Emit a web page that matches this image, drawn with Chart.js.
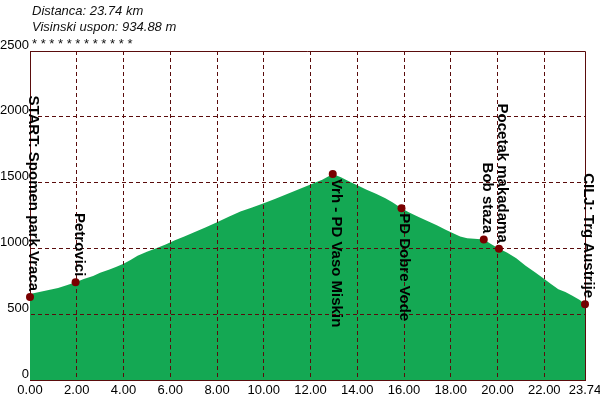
<!DOCTYPE html>
<html>
<head>
<meta charset="utf-8">
<script src="https://cdn.jsdelivr.net/npm/chart.js@4.4.1/dist/chart.umd.min.js"></script>
<style>
  html, body { margin: 0; padding: 0; background: #fff; }
  #wrap { width: 600px; height: 400px; position: relative; }
</style>
</head>
<body>
<div id="wrap"><canvas id="profil"></canvas></div>
<script>
// Podaci profila (km, m)
var distKm = [0, 0.1, 0.4, 0.8, 1.2, 1.6, 1.95, 2.3, 2.7, 3.0, 3.4, 3.7, 4.0, 4.3, 4.6, 5.0, 5.4, 5.8,
  6.2, 6.6, 7.0, 7.5, 8.0, 8.5, 9.0, 9.5, 10.0, 10.5, 11.0, 11.5, 12.0, 12.5, 12.95,
  13.3, 13.7, 14.0, 14.4, 14.8, 15.2, 15.5, 15.89, 16.2, 16.6, 17.0, 17.4, 17.8, 18.1, 18.4,
  18.7, 19.0, 19.41, 19.7, 20.06, 20.4, 20.8, 21.2, 21.6, 22.0, 22.3, 22.6, 22.9, 23.2, 23.5, 23.74];
var visina = [630, 658, 668, 684, 700, 722, 742, 768, 790, 815, 840, 860, 884, 912, 945, 975, 1002, 1030,
  1062, 1090, 1120, 1158, 1199, 1240, 1280, 1310, 1343, 1378, 1414, 1450, 1485, 1522, 1566,
  1540, 1505, 1480, 1445, 1415, 1382, 1350, 1306, 1275, 1240, 1208, 1176, 1140, 1115, 1090,
  1077, 1073, 1068, 1035, 997, 968, 925, 868, 818, 768, 728, 690, 668, 640, 610, 576];

// Kontrolne tacke
var tackeKm = [0, 1.95, 12.95, 15.89, 19.41, 20.06, 23.74];
var tackeVisina = [630, 742, 1566, 1306, 1068, 997, 576];
var tackeNazivi = ['START: Spomen park Vraca', 'Petrovici', 'Vrh - PD Vaso Miskin', 'PD Dobre Vode',
  'Bob staza', 'Pocetak makadama', 'CILJ: Trg Austrije'];
var tackeStrana = ['gore', 'gore', 'dole', 'dole', 'gore', 'gore', 'gore'];

var xTicks = [0, 2, 4, 6, 8, 10, 12, 14, 16, 18, 20, 22, 23.74];
var naslovi = ['Distanca: 23.74 km', 'Visinski uspon: 934.88 m', '* * * * * * * * * * * *'];

var bordo = '#5a0c0c';

Chart.defaults.font.family = "'Liberation Sans', Arial, sans-serif";
Chart.defaults.font.size = 13;
Chart.defaults.color = '#000';

// mreza preko zelene povrsine, ispod tacaka
var mrezaPlugin = {
    id: 'mrezaPlugin',
    afterDatasetDraw: function(chart, args) {
        if (args.index !== 0) return;
        chart.scales.x.drawGrid(chart.chartArea);
        chart.scales.y.drawGrid(chart.chartArea);
    }
};

var tekstPlugin = {
    id: 'tekstPlugin',
    afterDraw: function(chart) {
        var ctx = chart.ctx;
        var a = chart.chartArea;
        ctx.save();
        // okvir gore i desno
        ctx.strokeStyle = bordo;
        ctx.lineWidth = 1;
        ctx.beginPath();
        ctx.moveTo(a.left, a.top + 0.5);
        ctx.lineTo(a.right + 0.5, a.top + 0.5);
        ctx.lineTo(a.right + 0.5, a.bottom);
        ctx.stroke();

        // naslov
        ctx.fillStyle = '#111';
        ctx.font = "italic 13px 'Liberation Sans', Arial, sans-serif";
        ctx.textAlign = 'left';
        ctx.textBaseline = 'alphabetic';
        ctx.fillText(naslovi[0], 32, 15);
        ctx.fillText(naslovi[1], 32, 31);
        ctx.font = "13px 'Liberation Sans', Arial, sans-serif";
        ctx.fillText(naslovi[2], 32, 48);

        // nazivi tacaka
        var meta = chart.getDatasetMeta(1);
        ctx.fillStyle = '#000';
        ctx.font = "bold 15px 'Liberation Sans', Arial, sans-serif";
        meta.data.forEach(function(p, i) {
            ctx.save();
            ctx.translate(p.x - 1, p.y);
            ctx.rotate(Math.PI / 2);
            if (tackeStrana[i] === 'gore') {
                ctx.textAlign = 'right';
                ctx.fillText(tackeNazivi[i], -6, 0);
            } else {
                ctx.textAlign = 'left';
                ctx.fillText(tackeNazivi[i], 5, 0);
            }
            ctx.restore();
        });
        ctx.restore();
    }
};

var ctx = document.getElementById('profil').getContext('2d');
var chart = new Chart(ctx, {
    type: 'line',
    data: {
        datasets: [{
            label: 'Profil',
            data: distKm.map(function(d, i) { return {x: d, y: visina[i]}; }),
            backgroundColor: '#14a853',
            borderColor: 'rgba(0,0,0,0)',
            borderWidth: 0,
            pointRadius: 0,
            fill: 'origin',
            tension: 0,
            order: 1
        }, {
            label: 'Tacke',
            data: tackeKm.map(function(d, i) { return {x: d, y: tackeVisina[i]}; }),
            showLine: false,
            pointRadius: 4,
            pointBackgroundColor: '#7a0000',
            pointBorderWidth: 0,
            clip: false,
            order: -1
        }]
    },
    options: {
        responsive: true,
        maintainAspectRatio: false,
        animation: false,
        events: [],
        layout: { padding: { top: 51, right: 15, left: 0, bottom: 0 } },
        plugins: {
            legend: { display: false },
            tooltip: { enabled: false }
        },
        scales: {
            x: {
                type: 'linear',
                min: 0,
                max: 23.74,
                afterBuildTicks: function(scale) {
                    scale.ticks = xTicks.map(function(v) { return {value: v}; });
                },
                afterFit: function(scale) {
                    scale.height = 20;
                    scale.paddingLeft = 0;
                    scale.paddingRight = 0;
                },
                grid: {
                    color: function(c) {
                        var v = c.tick ? c.tick.value : 0;
                        return (v === 0 || v === 23.74) ? 'rgba(0,0,0,0)' : bordo;
                    },
                    lineWidth: 1,
                    drawTicks: false
                },
                border: { color: bordo, width: 1, dash: [4, 3] },
                ticks: {
                    padding: 3,
                    maxRotation: 0,
                    autoSkip: false,
                    color: '#000',
                    callback: function(v) { return Number(v).toFixed(2); }
                }
            },
            y: {
                min: 0,
                max: 2500,
                afterFit: function(scale) {
                    scale.width = 30;
                    scale.paddingTop = 0;
                    scale.paddingBottom = 0;
                },
                grid: {
                    color: function(c) {
                        var v = c.tick ? c.tick.value : 0;
                        return (v === 0 || v === 2500) ? 'rgba(0,0,0,0)' : bordo;
                    },
                    lineWidth: 1,
                    drawTicks: false
                },
                border: { color: bordo, width: 1, dash: [4, 3] },
                ticks: {
                    stepSize: 500,
                    padding: 1,
                    labelOffset: -6,
                    color: '#000',
                    callback: function(v) { return String(v); }
                }
            }
        }
    },
    plugins: [mrezaPlugin, tekstPlugin]
});
</script>
</body>
</html>
